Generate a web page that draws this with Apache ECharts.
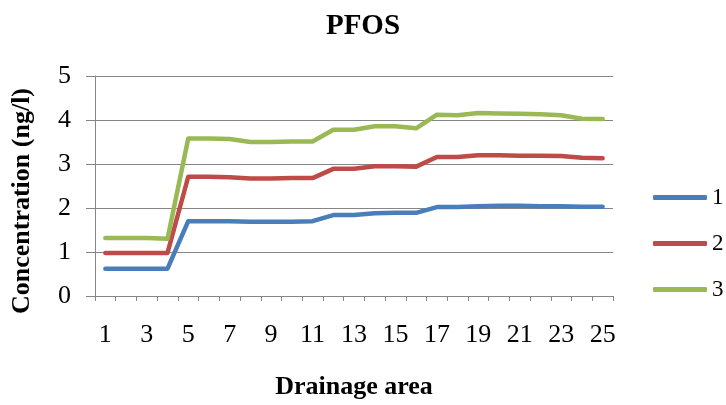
<!DOCTYPE html>
<html>
<head>
<meta charset="utf-8">
<script src="https://cdn.jsdelivr.net/npm/echarts@6/dist/echarts.min.js"></script>
<style>html,body{margin:0;padding:0;background:#fff;}#c{width:726px;height:405px;}</style>
</head>
<body>
<div id="c"></div>
<script>
const categories = ['1','2','3','4','5','6','7','8','9','10','11','12','13','14','15','16','17','18','19','20','21','22','23','24','25'];
const series1 = [0.62,0.62,0.62,0.62,1.70,1.70,1.70,1.69,1.69,1.69,1.70,1.84,1.84,1.88,1.89,1.89,2.02,2.02,2.04,2.05,2.05,2.04,2.04,2.03,2.03];
const series2 = [0.98,0.98,0.98,0.98,2.71,2.71,2.70,2.67,2.67,2.68,2.68,2.89,2.89,2.95,2.95,2.94,3.16,3.16,3.20,3.20,3.19,3.19,3.18,3.14,3.13];
const series3 = [1.32,1.32,1.32,1.30,3.58,3.58,3.57,3.50,3.50,3.51,3.51,3.78,3.78,3.86,3.86,3.81,4.12,4.11,4.16,4.15,4.14,4.13,4.11,4.03,4.02];
const seriesNames = ['1','2','3'];
const titleText = 'PFOS';
const xName = 'Drainage area';
const yName = 'Concentration (ng/l)';

const font = '"Liberation Serif", "Times New Roman", serif';
const colors = ['#4A7EBB','#BE4B48','#98B954'];
const chart = echarts.init(document.getElementById('c'), null, {renderer:'canvas'});
const data = [series1, series2, series3];
chart.setOption({
  animation: false,
  color: colors,
  title: {
    text: titleText, left: 'center', top: 7,
    textStyle: {fontFamily: font, fontSize: 29, fontWeight: 'bold', color: '#000'}
  },
  legend: {
    orient: 'vertical', left: 648, top: 181,
    itemWidth: 54, itemHeight: 5, itemGap: 23, icon: 'roundRect',
    textStyle: {fontFamily: font, fontSize: 23, color: '#000', lineHeight: 22},
    data: seriesNames
  },
  grid: {left: 95, right: 113, top: 76, bottom: 104, containLabel: false},
  xAxis: {
    type: 'category', data: categories, boundaryGap: true,
    name: xName, nameLocation: 'middle', nameGap: 78,
    nameTextStyle: {fontFamily: font, fontSize: 26, fontWeight: 'bold', color: '#000'},
    axisLine: {lineStyle: {color: '#868686', width: 1}},
    axisTick: {show: true, interval: 0, length: 5, lineStyle: {color: '#868686'}},
    axisLabel: {interval: 1, margin: 26, fontFamily: font, fontSize: 26, color: '#000'},
    splitLine: {show: false}
  },
  yAxis: {
    type: 'value', min: 0, max: 5, interval: 1,
    name: yName, nameLocation: 'middle', nameGap: 60, nameRotate: 90,
    nameTextStyle: {fontFamily: font, fontSize: 26, fontWeight: 'bold', color: '#000', padding: [0, 30, 0, 0]},
    axisLine: {show: true, lineStyle: {color: '#868686', width: 1}},
    axisTick: {show: true, length: 9, lineStyle: {color: '#868686'}},
    axisLabel: {margin: 24, fontFamily: font, fontSize: 26, color: '#000'},
    splitLine: {show: true, lineStyle: {color: '#868686', width: 1}}
  },
  series: seriesNames.map((n, i) => ({
    name: n, type: 'line', data: data[i], symbol: 'none', smooth: false,
    lineStyle: {width: 4.5, color: colors[i], cap: 'round', join: 'round'},
    itemStyle: {color: colors[i]}
  }))
});
</script>
</body>
</html>
